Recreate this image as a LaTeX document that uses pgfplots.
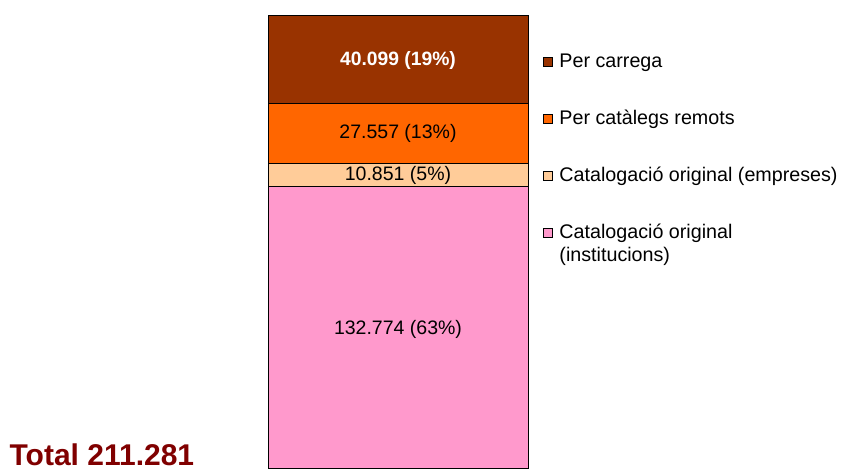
\documentclass[border=0pt]{standalone}
\usepackage{pgfplots}
\pgfplotsset{compat=1.18}
\usepackage{fontspec}
\setmainfont{Liberation Sans}
\definecolor{cpink}{HTML}{FF99CC}
\definecolor{cpeach}{HTML}{FFCC99}
\definecolor{corange}{HTML}{FF6600}
\definecolor{cbrown}{HTML}{993300}
\definecolor{totalred}{HTML}{800000}
\begin{document}
\begin{tikzpicture}
\useasboundingbox (0,0) rectangle (842pt,468pt);
\begin{axis}[
  at={(268pt,0pt)}, anchor=south west,
  width=260pt, height=452.3pt, scale only axis,
  xmin=0, xmax=1, ymin=3800, ymax=211281,
  hide axis, clip=false,
  ybar stacked, bar width=260pt,
  legend style={draw=none, fill=none, at={(1.0565,0.9175)}, anchor=north west,
    inner sep=0pt, row sep=39pt, column sep=6.5pt,
    font=\fontsize{19.7}{23}\selectfont,
    nodes={inner sep=0pt, text height=14pt, text depth=4pt},
    cells={anchor=base west}},
  reverse legend,
  legend image code/.code={\draw[#1, draw=black, line width=0.6pt] (0pt,0.5pt) rectangle (9.5pt,10pt);},
  every axis plot/.append style={draw=black, line width=0.8pt},
  after end axis/.code={
    \node[anchor=base, yshift=-7pt, inner sep=0pt, font=\bfseries\fontsize{19.3}{23}\selectfont, text=white] at (axis cs:0.5,191740) {40.099 (19\%)};
    \node[anchor=base, yshift=-7pt, inner sep=0pt, font=\fontsize{19.5}{23}\selectfont] at (axis cs:0.5,158070) {27.557 (13\%)};
    \node[anchor=base, yshift=-7pt, inner sep=0pt, font=\fontsize{19.5}{23}\selectfont] at (axis cs:0.5,138666) {10.851 (5\%)};
    \node[anchor=base, yshift=-7pt, inner sep=0pt, font=\fontsize{19.5}{23}\selectfont] at (axis cs:0.5,68024) {132.774 (63\%)};
  },
]
\addplot[fill=cpink] coordinates {(0.5,132774)};
\addplot[fill=cpeach] coordinates {(0.5,10851)};
\addplot[fill=corange] coordinates {(0.5,27557)};
\addplot[fill=cbrown] coordinates {(0.5,40099)};
\addlegendentry{\begin{tabular}[t]{@{}l@{}}Catalogació original\\(institucions)\end{tabular}}
\addlegendentry{Catalogació original (empreses)}
\addlegendentry{Per catàlegs remots}
\addlegendentry{Per carrega}
\end{axis}
\node[anchor=base west, inner sep=0pt, font=\bfseries\fontsize{30}{35}\selectfont, text=totalred] at (9.4pt,2.5pt) {Total 211.281};
\end{tikzpicture}
\end{document}
